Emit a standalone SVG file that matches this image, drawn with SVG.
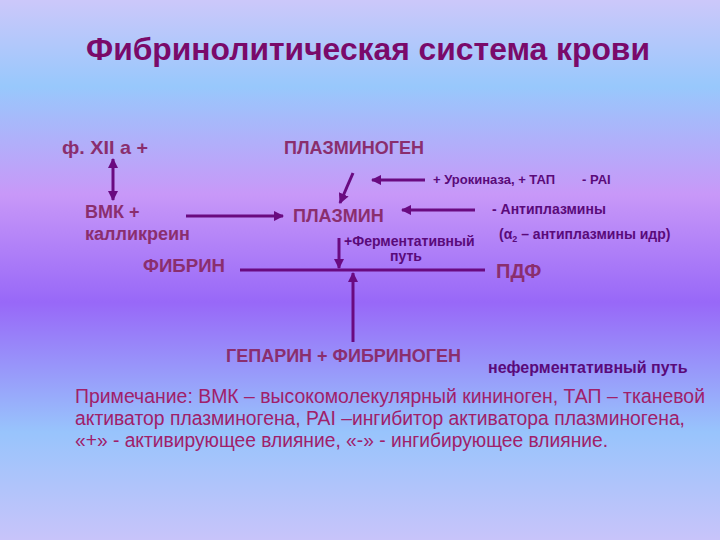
<svg xmlns="http://www.w3.org/2000/svg" width="720" height="540" viewBox="0 0 720 540">
<defs>
<linearGradient id="bg" x1="0" y1="0" x2="0" y2="1">
<stop offset="0" stop-color="#ccc8fa"/>
<stop offset="0.16" stop-color="#98c8fc"/>
<stop offset="0.36" stop-color="#c898f8"/>
<stop offset="0.56" stop-color="#9868f8"/>
<stop offset="0.8" stop-color="#98c4fc"/>
<stop offset="1" stop-color="#c8c4fa"/>
</linearGradient>
<marker id="ah" viewBox="0 0 10 10" refX="9" refY="5" markerWidth="3.5" markerHeight="3.5" orient="auto-start-reverse" markerUnits="strokeWidth">
<path d="M0,0 L10,5 L0,10 z" fill="#6a0a80"/>
</marker>
<style>
.t{font-family:"Liberation Sans",Arial,sans-serif;font-weight:bold}
.title{font-size:31px;fill:#7a0a6a}
.node{font-size:18px;fill:#8a2e6e}
.lab{font-size:14px;fill:#5a0a7a}
.note{font-family:"Liberation Sans",Arial,sans-serif;font-size:19.5px;fill:#a0206a}
.ln{stroke:#6a0a80;stroke-width:3;fill:none}
</style>
</defs>
<rect width="720" height="540" fill="url(#bg)"/>
<text class="t title" x="86" y="60" textLength="564" lengthAdjust="spacingAndGlyphs">Фибринолитическая система крови</text>

<g id="connectors">
<line class="ln" x1="113" y1="159" x2="113" y2="200" marker-start="url(#ah)" marker-end="url(#ah)"/>
<line class="ln" x1="186" y1="216" x2="283" y2="216" marker-end="url(#ah)"/>
<line class="ln" x1="353" y1="173" x2="340" y2="203" marker-end="url(#ah)"/>
<line class="ln" x1="425" y1="180" x2="372" y2="180" marker-end="url(#ah)"/>
<line class="ln" x1="475" y1="210" x2="402" y2="210" marker-end="url(#ah)"/>
<line class="ln" x1="339" y1="238" x2="339" y2="268" marker-end="url(#ah)"/>
<line class="ln" x1="240" y1="270" x2="485" y2="270"/>
<line class="ln" x1="353" y1="342" x2="353" y2="273" marker-end="url(#ah)"/>
</g>

<g id="f12"><text class="t node" x="62" y="154" style="font-size:19px" textLength="86" lengthAdjust="spacingAndGlyphs">ф. XII а +</text></g>
<g id="plasminogen"><text class="t node" x="284" y="154">ПЛАЗМИНОГЕН</text></g>
<g id="vmk"><text class="t node" x="85" y="218">ВМК +</text><text class="t node" x="85" y="240">калликреин</text></g>
<g id="plasmin"><text class="t node" x="293" y="222">ПЛАЗМИН</text></g>
<g id="urokinase"><text class="t lab" x="433" y="184" style="font-size:13px">+ Урокиназа, + ТАП</text><text class="t lab" x="582" y="184" style="font-size:13px">- PAI</text></g>
<g id="antiplasmin"><text class="t lab" x="492" y="214">- Антиплазмины</text><text class="t lab" x="499" y="239">(α<tspan font-size="9" dy="3">2</tspan><tspan dy="-3"> – антиплазмины идр)</tspan></text></g>
<g id="enzymatic"><text class="t lab" x="344" y="246">+Ферментативный</text><text class="t lab" x="406" y="261" text-anchor="middle">путь</text></g>
<g id="fibrin"><text class="t node" x="143" y="272" style="font-size:19px" textLength="82" lengthAdjust="spacingAndGlyphs">ФИБРИН</text></g>
<g id="pdf"><text class="t node" x="496" y="278" style="font-size:20px">ПДФ</text></g>
<g id="heparin"><text class="t node" x="226" y="362">ГЕПАРИН + ФИБРИНОГЕН</text></g>
<g id="nonenzymatic"><text class="t lab" x="488" y="373" style="font-size:16px">неферментативный путь</text></g>

<g id="note">
<text class="note" x="75" y="403" textLength="630" lengthAdjust="spacingAndGlyphs">Примечание: ВМК – высокомолекулярный кининоген, ТАП – тканевой</text>
<text class="note" x="75" y="425" textLength="610" lengthAdjust="spacingAndGlyphs">активатор плазминогена, PAI –ингибитор активатора плазминогена,</text>
<text class="note" x="75" y="447" textLength="533" lengthAdjust="spacingAndGlyphs">«+» - активирующее влияние, «-» - ингибирующее влияние.</text>
</g>
</svg>
